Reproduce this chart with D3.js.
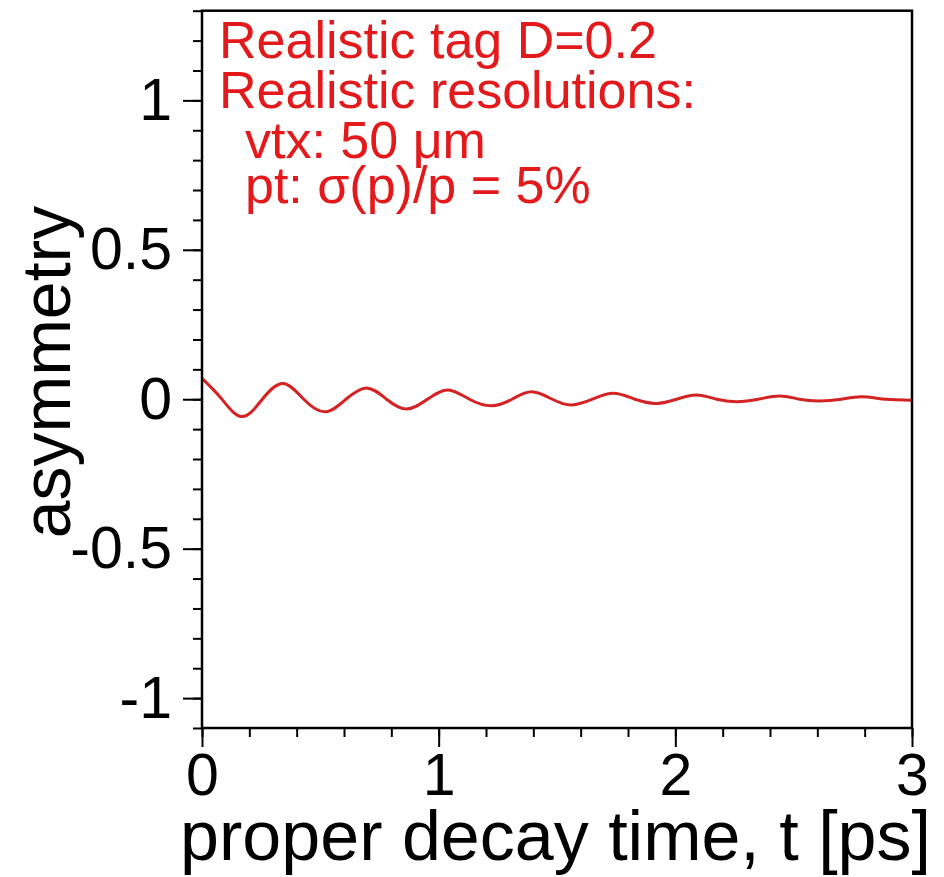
<!DOCTYPE html>
<html>
<head lang="en">
    <meta charset="UTF-8">
    <title></title>
    <script src="https://cdnjs.cloudflare.com/ajax/libs/d3/7.8.5/d3.min.js"></script>
    <style>
        body { margin: 0; background: #fff; }
        text { font-family: "Liberation Sans", Arial, Helvetica, sans-serif; }
    </style>
</head>
<body>

<script>

    // values: extrema and zero crossings of the asymmetry curve
    var times = [0, 0.08, 0.168, 0.255, 0.343, 0.43, 0.52, 0.608, 0.696, 0.78, 0.865, 0.953,
                 1.04, 1.13, 1.224, 1.31, 1.393, 1.48, 1.562, 1.65, 1.738, 1.83, 1.92, 2.005,
                 2.09, 2.175, 2.26, 2.35, 2.442, 2.525, 2.61, 2.70, 2.787, 2.89, 3.0];
    var asymmetry = [0.070, 0.004, -0.058, 0, 0.053, 0, -0.042, 0, 0.038, 0, -0.033, 0,
                     0.031, 0, -0.022, 0, 0.025, 0, -0.019, 0, 0.020, 0, -0.014, 0,
                     0.014, 0, -0.008, 0, 0.011, 0, -0.006, 0, 0.008, 0, -0.003];

    var xTicks = [0, 1, 2, 3];
    var yTicks = [-1, -0.5, 0, 0.5, 1];
    var yTickLabels = ["-1", "-0.5", "0", "0.5", "1"];

    var notes = ["Realistic tag D=0.2", "Realistic resolutions:", "vtx: 50 \u03bcm", "pt: \u03c3(p)/p = 5%"];

    var width = 944;
    var height = 877;
    // frame edges ("top" is taken by window.top, so prefix them)
    var frameLeft = 202, frameRight = 912, frameTop = 10.7, frameBottom = 728;

    var svg = d3.select("body")
            .append("svg")
            .attr("width", width)
            .attr("height", height);

    var x = d3.scaleLinear().domain([0, 3]).range([frameLeft, frameRight]);
    var y = d3.scaleLinear().domain([-1.1, 1.3]).range([frameBottom, frameTop]);

    // minor ticks first, then major ones with labels
    var xMinor = d3.range(0, 3.001, 0.2);
    var yMinor = d3.range(-1.1, 1.301, 0.1).map(function(d){ return Math.round(d * 10) / 10; });

    svg.append("g")
            .attr("transform", "translate(0," + frameBottom + ")")
            .call(d3.axisBottom(x).tickValues(xMinor).tickSize(9).tickFormat(""))
            .call(function(g){ g.select(".domain").remove(); })
            .selectAll("line").attr("stroke-width", 2);

    svg.append("g")
            .attr("transform", "translate(" + frameLeft + ",0)")
            .call(d3.axisLeft(y).tickValues(yMinor).tickSize(9).tickFormat(""))
            .call(function(g){ g.select(".domain").remove(); })
            .selectAll("line").attr("stroke-width", 2);

    var xAxis = svg.append("g")
            .attr("transform", "translate(0," + frameBottom + ")")
            .call(d3.axisBottom(x).tickValues(xTicks).tickSize(19).tickPadding(6)
                .tickFormat(d3.format("d")));
    xAxis.select(".domain").remove();
    xAxis.selectAll("line").attr("stroke-width", 2);
    xAxis.selectAll("text")
            .attr("font-size", 59)
            .attr("fill", "#000")
            .attr("font-family", null);

    var yAxis = svg.append("g")
            .attr("transform", "translate(" + frameLeft + ",0)")
            .call(d3.axisLeft(y).tickValues(yTicks).tickSize(19).tickPadding(11)
                .tickFormat(function(d, i){ return yTickLabels[i]; }));
    yAxis.select(".domain").remove();
    yAxis.selectAll("line").attr("stroke-width", 2);
    yAxis.selectAll("text")
            .attr("font-size", 59)
            .attr("fill", "#000")
            .attr("font-family", null);

    // the curve, smooth through the read points
    var line = d3.line()
            .x(function(d){ return x(d[0]); })
            .y(function(d){ return y(d[1]); })
            .curve(d3.curveNatural);

    svg.append("path")
            .datum(d3.zip(times, asymmetry))
            .attr("d", line)
            .attr("fill", "none")
            .attr("stroke", "#d42323")
            .attr("stroke-width", 3);

    // frame
    svg.append("rect")
            .attr("x", frameLeft)
            .attr("y", frameTop)
            .attr("width", frameRight - frameLeft)
            .attr("height", frameBottom - frameTop)
            .attr("fill", "none")
            .attr("stroke", "#000")
            .attr("stroke-width", 2.5);

    // annotation block
    svg.selectAll(".note")
            .data(notes)
            .enter()
            .append("text")
            .attr("class", "note")
            .text(function(d){ return d; })
            .attr("x", function(d, i){ return i < 2 ? 219 : 245; })
            .attr("y", function(d, i){ return [58, 108, 158, 203][i]; })
            .attr("font-size", 52)
            .attr("fill", "#e3191c");

    svg.append("text")
            .text("proper decay time, t [ps]")
            .attr("x", 931)
            .attr("y", 860)
            .attr("text-anchor", "end")
            .attr("font-size", 70);

    svg.append("text")
            .text("asymmetry")
            .attr("transform", "translate(70,372) rotate(-90)")
            .attr("text-anchor", "middle")
            .attr("font-size", 68);

</script>

</body>
</html>
